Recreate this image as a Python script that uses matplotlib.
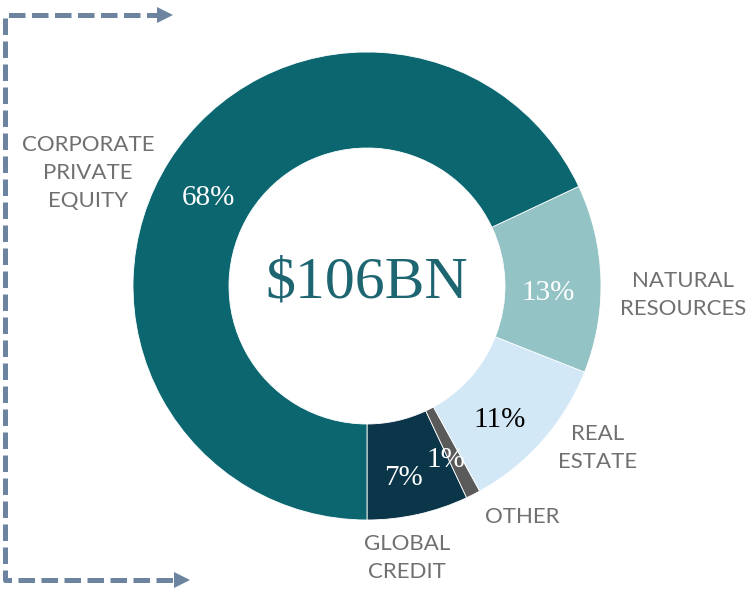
import matplotlib
matplotlib.use("Agg")
import matplotlib.pyplot as plt

# Portfolio split, drawn counter-clockwise from 6 o'clock
segments = ["GLOBAL\nCREDIT", "OTHER", "REAL\nESTATE", "NATURAL\nRESOURCES", "CORPORATE\nPRIVATE\nEQUITY"]
shares = [7, 1, 11, 13, 68]
pct_labels = ["7%", "1%", "11%", "13%", "68%"]
colors = ["#0B3548", "#5A5A5A", "#D3E8F6", "#93C3C5", "#0C6670"]
pct_colors = ["white", "white", "black", "white", "white"]
total_label = "$106BN"

W, H = 749, 589
fig = plt.figure(figsize=(W / 100, H / 100), dpi=100)
ax = fig.add_axes([0, 0, 1, 1])


def py(y):
    # pixel row (top down) -> data y
    return H - y


cx, cy, r_out, r_in = 367, 286, 234, 138
wedges, _ = ax.pie(shares, colors=colors, startangle=-90, counterclock=True,
                   center=(cx, py(cy)), radius=r_out, frame=True,
                   wedgeprops=dict(width=r_out - r_in, edgecolor="white", linewidth=0.6))
ax.set_xlim(0, W)
ax.set_ylim(0, H)
ax.set_aspect("equal")
ax.axis("off")

serif = ["Liberation Serif", "DejaVu Serif"]
sans = ["Lato", "DejaVu Sans"]
label_gray = "#707070"

# percentage labels inside the ring
pct_pos = [(404, 478), (446, 460), (500, 420), (548, 293), (208, 198)]
for txt, c, (x, y) in zip(pct_labels, pct_colors, pct_pos):
    ax.text(x, py(y), txt, ha="center", va="center", color=c,
            fontsize=21, family=serif)

# category labels outside
seg_pos = [(407, 558), (522, 517), (598, 448), (683, 295), (88, 173)]
for txt, (x, y) in zip(segments, seg_pos):
    ax.text(x, py(y), txt, ha="center", va="center", color=label_gray,
            fontsize=16, family=sans, linespacing=1.48)

ax.text(cx, py(283), total_label, ha="center", va="center", color="#1D6571",
        fontsize=43, family=serif)

# dashed bracket with arrows on the left
arrow_c = "#6C84A0"
ax.plot([163, 5, 5, 178], [py(15), py(15), py(580), py(580)], color=arrow_c,
        lw=3.6, linestyle=(0, (3.3, 1.3)), solid_capstyle="butt", dash_capstyle="butt")
ax.plot([165], [py(15)], marker=">", color=arrow_c, markersize=12, markeredgewidth=0)
ax.plot([182], [py(580)], marker=">", color=arrow_c, markersize=12, markeredgewidth=0)

fig.savefig("out.png", dpi=100)
